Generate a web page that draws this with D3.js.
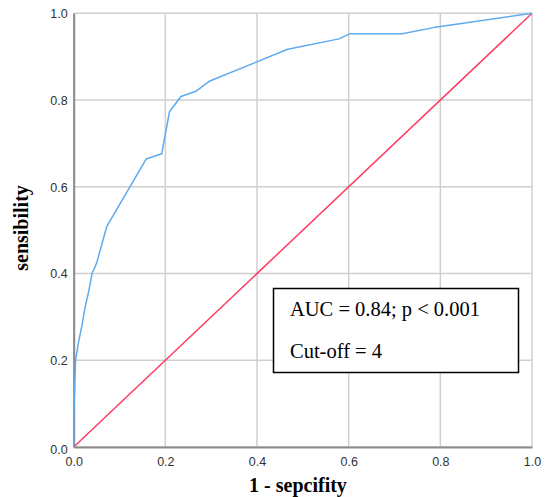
<!DOCTYPE html>
<html>
<head>
<meta charset="utf-8">
<script src="https://cdn.jsdelivr.net/npm/d3@7"></script>
<style>
  body { margin: 0; background: #fff; }
  .tick text { font-family: "Liberation Sans", Arial, sans-serif; font-size: 12.5px; fill: #333; }
</style>
</head>
<body>
<div id="chart"></div>
<script>
// ROC curve values (1 - specificity, sensitivity)
const fpr = [0, 0.000, 0.002, 0.004, 0.010, 0.018, 0.025, 0.033, 0.040, 0.050, 0.072, 0.158, 0.192, 0.209, 0.234, 0.268, 0.297, 0.467, 0.579, 0.603, 0.717, 0.785, 1.0];
const tpr = [0, 0.060, 0.130, 0.200, 0.239, 0.280, 0.323, 0.360, 0.400, 0.424, 0.508, 0.664, 0.676, 0.773, 0.808, 0.821, 0.844, 0.917, 0.941, 0.953, 0.953, 0.967, 1.0];
const refLine = [0, 1];
const ticks = [0, 0.2, 0.4, 0.6, 0.8, 1.0];
const statLines = ["AUC = 0.84; p < 0.001", "Cut-off = 4"];

const WIDTH = 550, HEIGHT = 497;
const margins = { top: 13.3, left: 73.7, right: 18, bottom: 50 };

const svg = d3.select("#chart").append("svg")
  .attr("width", WIDTH).attr("height", HEIGHT);

const x = d3.scaleLinear().domain([0, 1]).range([margins.left, WIDTH - margins.right]);
const y = d3.scaleLinear().domain([0, 1]).range([HEIGHT - margins.bottom, margins.top]);

// grid
const grid = svg.append("g");
grid.selectAll("line.v").data(ticks).join("line")
  .attr("x1", d => x(d)).attr("x2", d => x(d))
  .attr("y1", y(0)).attr("y2", y(1))
  .attr("stroke", "#cfcfcf").attr("stroke-width", 1.5);
grid.selectAll("line.h").data(ticks).join("line")
  .attr("y1", d => y(d)).attr("y2", d => y(d))
  .attr("x1", x(0)).attr("x2", x(1))
  .attr("stroke", "#cfcfcf").attr("stroke-width", 1.5);

// axes
const xAxis = svg.append("g")
  .attr("transform", `translate(0,${y(0)})`)
  .call(d3.axisBottom(x).tickValues(ticks).tickFormat(d3.format(".1f")).tickSize(0).tickPadding(10));
const yAxis = svg.append("g")
  .attr("transform", `translate(${x(0)},0)`)
  .call(d3.axisLeft(y).tickValues(ticks).tickFormat(d3.format(".1f")).tickSize(0).tickPadding(6));
xAxis.select(".domain").attr("stroke", "#8a8a8a").attr("stroke-width", 2);
yAxis.select(".domain").attr("stroke", "#8a8a8a").attr("stroke-width", 2);
yAxis.selectAll(".tick text").attr("dy", "0.55em");
yAxis.selectAll(".tick").filter(d => d > 0).select("text").attr("dy", "0.35em");

// reference diagonal
svg.append("path")
  .datum(refLine)
  .attr("d", d3.line().x(d => x(d)).y(d => y(d)))
  .attr("fill", "none").attr("stroke", "#ff3b62").attr("stroke-width", 1.5);

// ROC curve
svg.append("path")
  .datum(d3.range(fpr.length))
  .attr("d", d3.line().x(i => x(fpr[i])).y(i => y(tpr[i])))
  .attr("fill", "none").attr("stroke", "#5eaaef").attr("stroke-width", 1.5)
  .attr("stroke-linejoin", "round");

// axis titles
svg.append("text")
  .attr("x", 298).attr("y", 492)
  .attr("text-anchor", "middle")
  .style("font-family", "'Liberation Serif', 'Times New Roman', serif")
  .style("font-weight", "bold").style("font-size", "20px")
  .text("1 - sepcifity");
svg.append("text")
  .attr("transform", "translate(28,228) rotate(-90)")
  .attr("text-anchor", "middle")
  .style("font-family", "'Liberation Serif', 'Times New Roman', serif")
  .style("font-weight", "bold").style("font-size", "20px")
  .text("sensibility");

// stats box
const box = svg.append("g");
box.append("rect")
  .attr("x", 273.5).attr("y", 288.5).attr("width", 245).attr("height", 84)
  .attr("fill", "#fff").attr("stroke", "#000").attr("stroke-width", 1.5);
box.selectAll("text").data(statLines).join("text")
  .attr("x", 290).attr("y", (d, i) => 316 + i * 41.5)
  .style("font-family", "'Liberation Serif', 'Times New Roman', serif")
  .style("font-size", "20.5px").attr("fill", "#000")
  .text(d => d);
</script>
</body>
</html>
